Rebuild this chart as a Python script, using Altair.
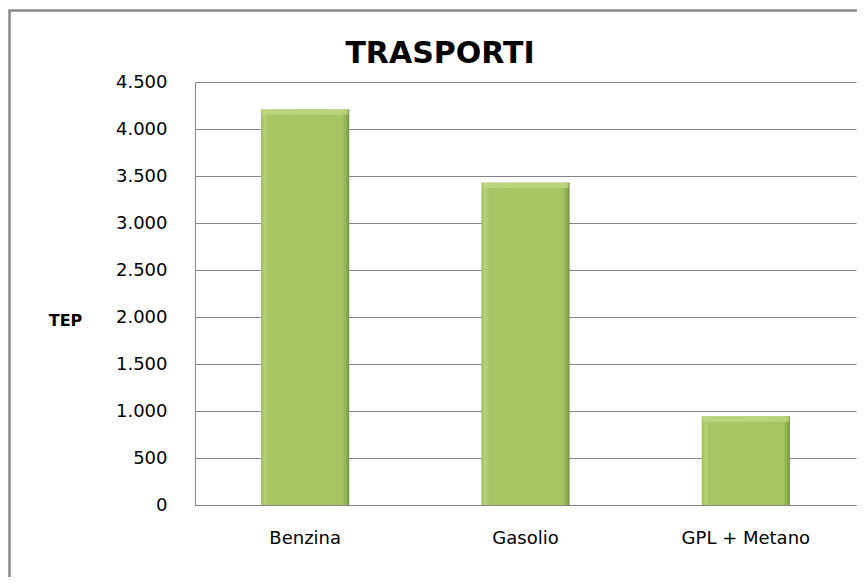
import altair as alt
import pandas as pd

categories = ["Benzina", "Gasolio", "GPL + Metano"]
values = [4210, 3430, 945]
y_ticks = [0, 500, 1000, 1500, 2000, 2500, 3000, 3500, 4000, 4500]

df = pd.DataFrame({"categoria": categories, "tep": values})

FONT = "DejaVu Sans"
GRID = "#868686"

bar_fill = alt.LinearGradient(
    gradient="linear", x1=0, y1=0, x2=1, y2=0,
    stops=[
        alt.GradientStop(color="#9CBD5A", offset=0),
        alt.GradientStop(color="#B4D276", offset=0.04),
        alt.GradientStop(color="#A6C764", offset=0.09),
        alt.GradientStop(color="#A5C663", offset=0.92),
        alt.GradientStop(color="#8EAD50", offset=0.97),
        alt.GradientStop(color="#72903C", offset=1),
    ],
)

x_enc = alt.X(
    "categoria:N", sort=None, title=None,
    scale=alt.Scale(paddingInner=0.6, paddingOuter=0.3),
    axis=alt.Axis(labelAngle=0, labelFont=FONT, labelFontSize=18, labelColor="#000000",
                  labelPadding=33, labelBaseline="middle", ticks=False,
                  domainColor=GRID, domainWidth=1, grid=False),
)
y_enc = alt.Y(
    "tep:Q", title="TEP",
    scale=alt.Scale(domain=[0, 4500], nice=False),
    axis=alt.Axis(values=y_ticks, labelExpr="replace(format(datum.value, ','), ',', '.')",
                  labelFont=FONT, labelFontSize=18, labelColor="#000000", labelPadding=28,
                  ticks=False, domainColor=GRID, domainWidth=1, grid=True,
                  gridColor=GRID, gridWidth=1,
                  titleFont=FONT, titleFontSize=16, titleFontWeight="bold", titleColor="#000000",
                  titleAngle=0, titleAlign="center", titleBaseline="middle",
                  titleX=-130, titleY=238),
)

frame = alt.Chart(alt.Data(values=[{}])).mark_rect(
    fill=None, stroke="#898989", strokeWidth=2.5, clip=False
).encode(
    x=alt.value(-185.5), x2=alt.value(680), y=alt.value(-71.5), y2=alt.value(540)
)

bars = alt.Chart(df).mark_bar(color=bar_fill).encode(x=x_enc, y=y_enc)

bevel = alt.Chart(df).mark_tick(
    orient="horizontal", size=86, thickness=5, color="#C2DB88", yOffset=3
).encode(x=alt.X("categoria:N", sort=None), y=alt.Y("tep:Q"))

title = alt.Chart(alt.Data(values=[{}])).mark_text(
    text="TRASPORTI", font=FONT, fontSize=30, fontWeight="bold", color="#000000",
    align="center", baseline="alphabetic"
).encode(x=alt.value(245), y=alt.value(-19))

chart = alt.layer(frame, bars, bevel, title).properties(
    width=661, height=423,
    autosize=alt.AutoSizeParams(type="none"),
    padding={"left": 187, "top": 74, "right": 1, "bottom": 72},
    background="#FFFFFF",
).configure_view(stroke=None)

chart.save("out.html", embed_options={"renderer": "svg", "actions": False})
